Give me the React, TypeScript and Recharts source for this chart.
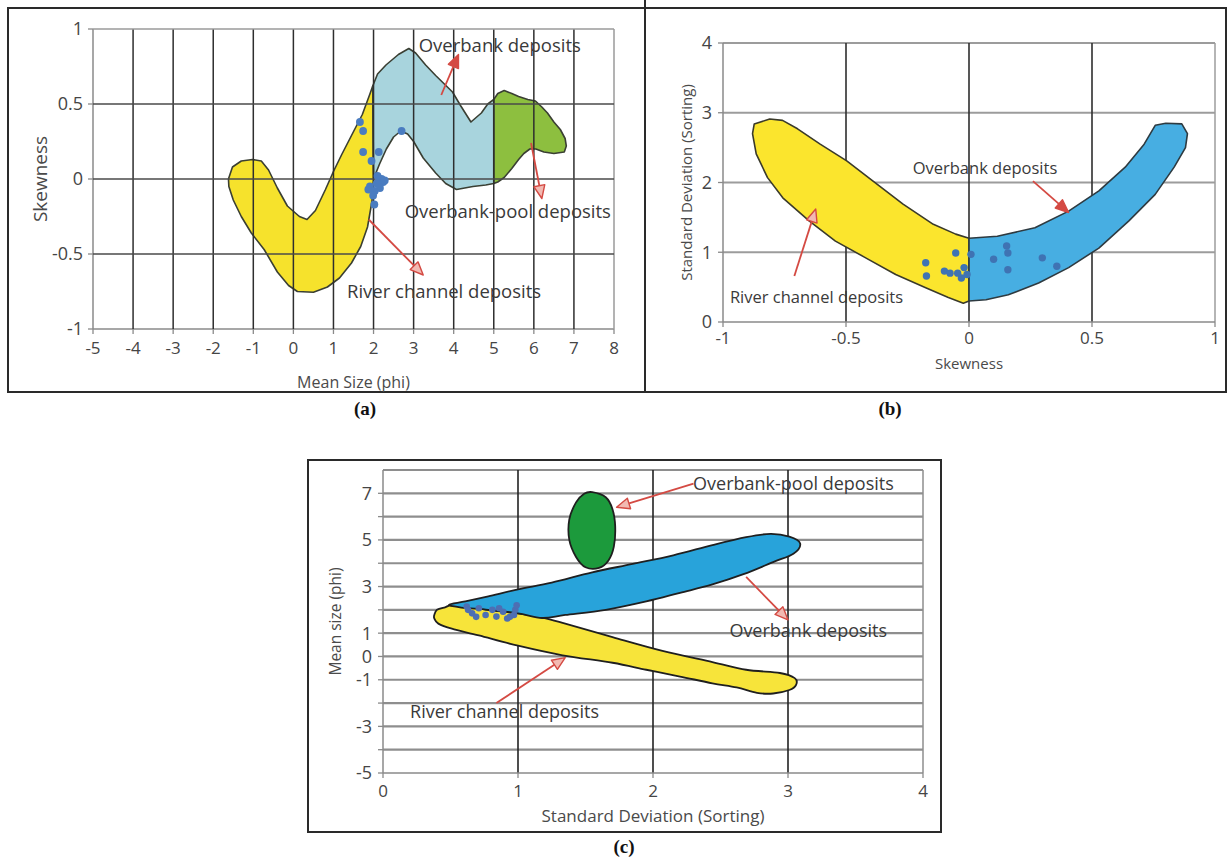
import React from 'react';
import { ScatterChart, Scatter, XAxis, YAxis, ReferenceLine, Label } from 'recharts';

type P = [number, number];

// ---------- Panel (a): Skewness vs Mean Size ----------
const aXTicks = [-5, -4, -3, -2, -1, 0, 1, 2, 3, 4, 5, 6, 7, 8];
const aYTicks = [-1, -0.5, 0, 0.5, 1];
const aRiver: P[] = [
  [-1.62, 0.0], [-1.52, 0.08], [-1.3, 0.12], [-1.02, 0.13], [-0.8, 0.12], [-0.62, 0.06], [-0.4, -0.06],
  [-0.15, -0.18], [0.15, -0.25], [0.34, -0.27], [0.55, -0.21], [0.8, -0.07], [1.0, 0.05], [1.2, 0.16],
  [1.45, 0.29], [1.72, 0.43], [1.9, 0.56], [1.98, 0.62], [2.0, 0.0], [1.96, -0.15], [1.85, -0.32],
  [1.68, -0.45], [1.45, -0.56], [1.15, -0.66], [0.85, -0.72], [0.5, -0.755], [0.1, -0.75], [-0.12, -0.71],
  [-0.4, -0.62], [-0.73, -0.47], [-1.05, -0.36], [-1.3, -0.25], [-1.5, -0.14], [-1.61, -0.05],
];
const aOverbank: P[] = [
  [1.98, 0.62], [2.1, 0.7], [2.31, 0.76], [2.62, 0.83], [2.88, 0.87], [3.05, 0.84], [3.3, 0.76],
  [3.55, 0.69], [3.97, 0.58], [4.17, 0.49], [4.43, 0.38], [4.69, 0.44], [4.85, 0.5], [5.0, 0.53],
  [5.0, -0.03], [4.8, -0.04], [4.48, -0.05], [4.07, -0.07], [3.8, -0.03], [3.55, 0.04], [3.24, 0.14],
  [3.0, 0.25], [2.85, 0.3], [2.68, 0.32], [2.5, 0.28], [2.32, 0.2], [2.15, 0.1], [2.0, 0.0],
];
const aPool: P[] = [
  [5.0, 0.53], [5.1, 0.57], [5.26, 0.59], [5.45, 0.57], [5.62, 0.55], [5.85, 0.53], [6.04, 0.52],
  [6.2, 0.48], [6.34, 0.44], [6.5, 0.38], [6.66, 0.33], [6.78, 0.27], [6.81, 0.22], [6.76, 0.18],
  [6.5, 0.17], [6.25, 0.18], [6.05, 0.2], [5.9, 0.2], [5.75, 0.17], [5.62, 0.13], [5.45, 0.07],
  [5.26, 0.01], [5.1, -0.02], [5.0, -0.03],
];
const aSamples: P[] = [
  [1.66, 0.38], [1.74, 0.32], [1.74, 0.18], [1.95, 0.12], [2.13, 0.18], [2.7, 0.32], [2.2, 0.0],
  [2.24, -0.02], [2.08, -0.03], [1.91, -0.05], [1.87, -0.07], [2.03, -0.08], [2.16, -0.06],
  [2.28, -0.01], [2.1, 0.02], [1.99, -0.11], [2.02, -0.17],
];
const aArrowOverbank: P[] = [[3.69, 0.56], [4.12, 0.83]];
const aArrowPool: P[] = [[5.93, 0.24], [6.2, -0.13]];
const aArrowRiver: P[] = [[1.88, -0.27], [3.24, -0.64]];
const aLabels = [
  { x: 5.15, y: 0.9, label: 'Overbank deposits' },
  { x: 5.35, y: -0.21, label: 'Overbank-pool deposits' },
  { x: 3.76, y: -0.74, label: 'River channel deposits' },
];

// ---------- Panel (b): Standard Deviation vs Skewness ----------
const bXTicks = [-1, -0.5, 0, 0.5, 1];
const bYTicks = [0, 1, 2, 3, 4];
const bRiver: P[] = [
  [-0.873, 2.84], [-0.81, 2.91], [-0.758, 2.89], [-0.697, 2.77], [-0.605, 2.55], [-0.497, 2.31],
  [-0.39, 2.02], [-0.268, 1.69], [-0.145, 1.4], [-0.054, 1.26], [0, 1.2], [0, 0.3], [-0.023, 0.27],
  [-0.084, 0.35], [-0.176, 0.49], [-0.298, 0.68], [-0.42, 0.92], [-0.543, 1.16], [-0.65, 1.45],
  [-0.757, 1.78], [-0.819, 2.07], [-0.865, 2.41], [-0.88, 2.7],
];
const bOverbank: P[] = [
  [0, 1.2], [0.115, 1.23], [0.268, 1.35], [0.405, 1.59], [0.528, 1.88], [0.635, 2.22], [0.712, 2.55],
  [0.757, 2.82], [0.8, 2.85], [0.865, 2.84], [0.888, 2.7], [0.88, 2.5], [0.834, 2.22], [0.757, 1.83],
  [0.65, 1.45], [0.528, 1.06], [0.405, 0.78], [0.283, 0.56], [0.16, 0.39], [0.069, 0.32], [0, 0.3],
];
const bSamples: P[] = [
  [-0.176, 0.85], [-0.173, 0.66], [-0.054, 0.99], [-0.1, 0.73], [-0.077, 0.7], [-0.046, 0.7],
  [-0.031, 0.63], [-0.02, 0.78], [-0.008, 0.68], [0.008, 0.97], [0.1, 0.9], [0.153, 1.09],
  [0.158, 0.99], [0.158, 0.75], [0.298, 0.92], [0.357, 0.8],
];
const bArrowOverbank: P[] = [[0.26, 2.02], [0.405, 1.57]];
const bArrowRiver: P[] = [[-0.71, 0.66], [-0.623, 1.62]];
const bLabels = [
  { x: 0.065, y: 2.22, label: 'Overbank deposits' },
  { x: -0.62, y: 0.37, label: 'River channel deposits' },
];

// ---------- Panel (c): Mean size vs Standard Deviation ----------
const cXTicks = [0, 1, 2, 3, 4];
const cYTicks = [-5, -4, -3, -2, -1, 0, 1, 2, 3, 4, 5, 6, 7];
const cYLabeled = [7, 5, 3, 1, 0, -1, -3, -5];
const cPool: P[] = [
  [1.55, 7.05], [1.65, 6.83], [1.7, 6.32], [1.72, 5.58], [1.71, 4.71], [1.67, 4.12], [1.6, 3.8],
  [1.5, 3.83], [1.43, 4.27], [1.38, 5.0], [1.38, 5.88], [1.43, 6.61], [1.49, 6.98],
];
const cOverbank: P[] = [
  [0.49, 2.22], [0.61, 2.36], [0.78, 2.58], [1.0, 2.88], [1.25, 3.17], [1.55, 3.61], [1.85, 3.97],
  [2.15, 4.34], [2.44, 4.78], [2.69, 5.12], [2.87, 5.26], [3.01, 5.14], [3.09, 4.85], [3.04, 4.41],
  [2.89, 4.05], [2.67, 3.53], [2.44, 3.09], [2.2, 2.73], [1.95, 2.36], [1.65, 2.0], [1.35, 1.78],
  [1.18, 1.65], [1.0, 1.85], [0.78, 2.0], [0.58, 2.1],
];
const cRiver: P[] = [
  [0.38, 1.78], [0.4, 2.0], [0.46, 2.11], [0.53, 2.2], [0.78, 2.0], [1.0, 1.85], [1.18, 1.67],
  [1.35, 1.41], [1.7, 0.83], [2.07, 0.24], [2.44, -0.24], [2.69, -0.57], [2.94, -0.71], [3.05, -0.93],
  [3.06, -1.22], [3.01, -1.44], [2.89, -1.59], [2.77, -1.56], [2.62, -1.33], [2.44, -1.15],
  [2.2, -0.86], [1.95, -0.57], [1.7, -0.27], [1.33, 0.05], [1.0, 0.46], [0.71, 0.9], [0.51, 1.19],
  [0.41, 1.41], [0.38, 1.63],
];
const cSamples: P[] = [
  [0.62, 2.14], [0.66, 1.85], [0.71, 2.07], [0.76, 1.78], [0.81, 2.0], [0.84, 1.71], [0.89, 1.92],
  [0.94, 1.7], [0.98, 2.0], [0.99, 2.2], [0.63, 2.0], [0.69, 1.7], [0.86, 2.07], [0.92, 1.63],
  [0.97, 1.78],
];
const cArrowPool: P[] = [[2.3, 7.42], [1.73, 6.4]];
const cArrowOverbank: P[] = [[2.69, 3.41], [3.0, 1.57]];
const cArrowRiver: P[] = [[0.84, -2.0], [1.35, -0.05]];
const cLabels = [
  { x: 3.04, y: 7.44, label: 'Overbank-pool deposits' },
  { x: 3.15, y: 1.14, label: 'Overbank deposits' },
  { x: 0.9, y: -2.35, label: 'River channel deposits' },
];

// ---------- helpers ----------
const FONT = "'Open Sans', 'Noto Sans', 'DejaVu Sans', sans-serif";
const ARROW = '#d44a43';
const toObj = (arr: P[]) => arr.map(([x, y]) => ({ x, y }));
const noShape = () => <g />;

const linearPath = (pts: any[]) =>
  pts.map((p: any, i: number) => `${i ? 'L' : 'M'}${p.x.toFixed(2)},${p.y.toFixed(2)}`).join(' ') + ' Z';

// closed Catmull-Rom spline through the scaled vertices
const smoothPath = (pts: any[]) => {
  const n = pts.length;
  let d = `M${pts[0].x.toFixed(2)},${pts[0].y.toFixed(2)}`;
  for (let i = 0; i < n; i++) {
    const p0 = pts[(i - 1 + n) % n];
    const p1 = pts[i];
    const p2 = pts[(i + 1) % n];
    const p3 = pts[(i + 2) % n];
    const c1x = p1.x + (p2.x - p0.x) / 6;
    const c1y = p1.y + (p2.y - p0.y) / 6;
    const c2x = p2.x - (p3.x - p1.x) / 6;
    const c2y = p2.y - (p3.y - p1.y) / 6;
    d += ` C${c1x.toFixed(2)},${c1y.toFixed(2)} ${c2x.toFixed(2)},${c2y.toFixed(2)} ${p2.x.toFixed(2)},${p2.y.toFixed(2)}`;
  }
  return d + ' Z';
};

const polygonLine = (fill: string, stroke: string, sw = 1.6, smooth = false) => (props: any) => {
  const pts = props.points || [];
  if (pts.length < 3) return <g />;
  const d = smooth ? smoothPath(pts) : linearPath(pts);
  return <path d={d} fill={fill} stroke={stroke} strokeWidth={sw} strokeLinejoin="round" />;
};

const arrowLine = (open: boolean) => (props: any) => {
  const pts = props.points || [];
  if (pts.length < 2) return <g />;
  const a = pts[0];
  const b = pts[pts.length - 1];
  const ang = Math.atan2(b.y - a.y, b.x - a.x);
  const L = 13;
  const W = 5.5;
  const bx = b.x - L * Math.cos(ang);
  const by = b.y - L * Math.sin(ang);
  const nx = -Math.sin(ang) * W;
  const ny = Math.cos(ang) * W;
  const head = `M${b.x},${b.y} L${bx + nx},${by + ny} L${bx - nx},${by - ny} Z`;
  return (
    <g>
      <line x1={a.x} y1={a.y} x2={bx} y2={by} stroke={ARROW} strokeWidth={1.8} />
      <path d={head} fill={open ? '#f2b9b2' : ARROW} stroke={ARROW} strokeWidth={1.4} strokeLinejoin="round" />
    </g>
  );
};

const dotShape = (r: number, color: string) => (p: any) => <circle cx={p.cx} cy={p.cy} r={r} fill={color} />;

const textShape = (size: number) => (p: any) => (
  <text x={p.cx} y={p.cy} textAnchor="middle" dominantBaseline="central" fontSize={size} fill="#3a3a3a" fontFamily={FONT}>
    {p.payload.label}
  </text>
);

const xTitle = (text: string, dy: number, size: number) => (p: any) => {
  const vb = p.viewBox || { x: 0, y: 0, width: 0, height: 0 };
  return (
    <text x={vb.x + vb.width / 2} y={vb.y + dy} textAnchor="middle" dominantBaseline="central" fontSize={size} fill="#4a4a4a" fontFamily={FONT}>
      {text}
    </text>
  );
};

const yTitle = (text: string, dx: number, size: number) => (p: any) => {
  const vb = p.viewBox || { x: 0, y: 0, width: 0, height: 0 };
  const x = vb.x + dx;
  const y = vb.y + vb.height / 2;
  return (
    <text x={x} y={y} transform={`rotate(-90 ${x} ${y})`} textAnchor="middle" dominantBaseline="central" fontSize={size} fill="#4a4a4a" fontFamily={FONT}>
      {text}
    </text>
  );
};

const tickStyle = (size: number) => ({ fontSize: size, fill: '#454545', fontFamily: FONT });
const axisLine = { stroke: '#8a8a8a', strokeWidth: 1.5 };
const tickLine = { stroke: '#8a8a8a', strokeWidth: 1.3 };

const Poly = (data: P[], fill: string, stroke = '#3a3f33', sw = 1.6, smooth = false) => (
  <Scatter
    data={toObj(data)}
    dataKey="y"
    line={polygonLine(fill, stroke, sw, smooth)}
    lineType="joint"
    shape={noShape}
    isAnimationActive={false}
    legendType="none"
  />
);

const Arrow = (data: P[], open: boolean, z?: number) => (
  <Scatter data={toObj(data)} dataKey="y" line={arrowLine(open)} lineType="joint" shape={noShape} isAnimationActive={false} zIndex={z} />
);

export default function App() {
  const frame = '#2a2a2a';
  return (
    <div style={{ position: 'absolute', left: 0, top: 0, width: 1232, height: 862, background: '#fff', overflow: 'hidden' }}>
      {/* frames */}
      <div style={{ position: 'absolute', left: 7, top: 7, width: 1220, height: 386, border: `2px solid ${frame}`, boxSizing: 'border-box' }} />
      <div style={{ position: 'absolute', left: 644, top: 0, width: 2, height: 393, background: frame }} />
      <div style={{ position: 'absolute', left: 307, top: 459, width: 635, height: 374, border: `2px solid ${frame}`, boxSizing: 'border-box' }} />

      {/* Panel (a) */}
      <div style={{ position: 'absolute', left: 7, top: 7 }}>
        <ScatterChart width={638} height={386} margin={{ top: 22, right: 31, bottom: 3, left: 26 }}>
          <XAxis type="number" dataKey="x" domain={[-5, 8]} ticks={aXTicks} interval={0} height={61}
            tick={tickStyle(17)} tickSize={5} tickMargin={8} tickLine={tickLine} axisLine={axisLine} allowDataOverflow>
            <Label content={xTitle('Mean Size (phi)', 53, 16)} />
          </XAxis>
          <YAxis type="number" dataKey="y" domain={[-1, 1]} ticks={aYTicks} interval={0} width={60}
            tick={tickStyle(18)} tickSize={5} tickMargin={5} tickLine={tickLine} axisLine={axisLine} allowDataOverflow>
            <Label content={yTitle('Skewness', 7, 19)} />
          </YAxis>
          {Poly(aRiver, '#f6e22c')}
          {Poly(aOverbank, '#a8d4dd')}
          {Poly(aPool, '#8dbf3f')}
          {aXTicks.filter((t) => t > -5 && t < 8).map((t) => (
            <ReferenceLine key={`ax${t}`} x={t} stroke="#2e2e2e" strokeWidth={1.5} zIndex={650} />
          ))}
          <ReferenceLine x={8} stroke="#9a9a9a" strokeWidth={1.5} zIndex={650} />
          {aYTicks.filter((t) => t > -1 && t < 1).map((t) => (
            <ReferenceLine key={`ay${t}`} y={t} stroke="#4a4a4a" strokeWidth={1.5} zIndex={650} />
          ))}
          <ReferenceLine y={1} stroke="#9a9a9a" strokeWidth={1.5} zIndex={650} />
          <Scatter data={toObj(aSamples)} dataKey="y" shape={dotShape(3.9, '#4a7cc0')} isAnimationActive={false} zIndex={700} />
          {Arrow(aArrowOverbank, false, 700)}
          {Arrow(aArrowPool, true, 700)}
          {Arrow(aArrowRiver, true, 700)}
          <Scatter data={aLabels} dataKey="y" shape={textShape(18.5)} isAnimationActive={false} zIndex={710} />
        </ScatterChart>
      </div>

      {/* Panel (b) */}
      <div style={{ position: 'absolute', left: 646, top: 7 }}>
        <ScatterChart width={580} height={386} margin={{ top: 36, right: 11, bottom: 4, left: 27 }}>
          <XAxis type="number" dataKey="x" domain={[-1, 1]} ticks={bXTicks} interval={0} height={67}
            tick={tickStyle(17)} tickSize={5} tickMargin={5} tickLine={tickLine} axisLine={axisLine} allowDataOverflow>
            <Label content={xTitle('Skewness', 41, 15)} />
          </XAxis>
          <YAxis type="number" dataKey="y" domain={[0, 4]} ticks={bYTicks} interval={0} width={50}
            tick={tickStyle(18)} tickSize={5} tickMargin={6} tickLine={tickLine} axisLine={axisLine} allowDataOverflow>
            <Label content={yTitle('Standard Deviation (Sorting)', 13, 15)} />
          </YAxis>
          {bYTicks.filter((t) => t > 0).map((t) => (
            <ReferenceLine key={`by${t}`} y={t} stroke="#9c9c9c" strokeWidth={2} />
          ))}
          {[-0.5, 0, 0.5].map((t) => (
            <ReferenceLine key={`bx${t}`} x={t} stroke="#2e2e2e" strokeWidth={1.6} />
          ))}
          <ReferenceLine x={1} stroke="#9c9c9c" strokeWidth={1.5} />
          {Poly(bRiver, '#fbe52d', '#3a3a2a')}
          {Poly(bOverbank, '#47aee2', '#2e3a40')}
          <Scatter data={toObj(bSamples)} dataKey="y" shape={dotShape(3.7, '#3f73b3')} isAnimationActive={false} />
          {Arrow(bArrowOverbank, false)}
          {Arrow(bArrowRiver, true)}
          <Scatter data={bLabels} dataKey="y" shape={textShape(16.5)} isAnimationActive={false} />
        </ScatterChart>
      </div>

      {/* Panel (c) */}
      <div style={{ position: 'absolute', left: 308, top: 460 }}>
        <ScatterChart width={633} height={372} margin={{ top: 10, right: 18, bottom: 3, left: 25 }}>
          <XAxis type="number" dataKey="x" domain={[0, 4]} ticks={cXTicks} interval={0} height={56}
            tick={tickStyle(17)} tickSize={5} tickMargin={7} tickLine={tickLine} axisLine={axisLine} allowDataOverflow>
            <Label content={xTitle('Standard Deviation (Sorting)', 42, 17)} />
          </XAxis>
          <YAxis type="number" dataKey="y" domain={[-5, 8]} ticks={cYTicks} interval={0} width={50}
            tick={tickStyle(18)} tickSize={5} tickMargin={6} tickLine={tickLine} axisLine={axisLine} allowDataOverflow
            tickFormatter={(v: number) => (cYLabeled.includes(v) ? String(v) : '')}>
            <Label content={yTitle('Mean size (phi)', 2, 15.5)} />
          </YAxis>
          {cYTicks.filter((t) => t > -5).concat([8]).map((t) => (
            <ReferenceLine key={`cy${t}`} y={t} stroke="#8e8e8e" strokeWidth={2.2} />
          ))}
          {[1, 2, 3].map((t) => (
            <ReferenceLine key={`cx${t}`} x={t} stroke="#222" strokeWidth={1.6} />
          ))}
          <ReferenceLine x={4} stroke="#8e8e8e" strokeWidth={1.5} />
          {Poly(cRiver, '#f7e43a', '#1f1f1f', 1.8, true)}
          {Poly(cOverbank, '#28a3da', '#1f1f1f', 1.8, true)}
          {Poly(cPool, '#1c9a3c', '#1f1f1f', 1.8, true)}
          <Scatter data={toObj(cSamples)} dataKey="y" shape={dotShape(3.3, '#4d6fb3')} isAnimationActive={false} />
          {Arrow(cArrowPool, true)}
          {Arrow(cArrowOverbank, true)}
          {Arrow(cArrowRiver, true)}
          <Scatter data={cLabels} dataKey="y" shape={textShape(18)} isAnimationActive={false} />
        </ScatterChart>
      </div>

      {/* panel captions */}
      {[
        { t: '(a)', x: 365, y: 409 },
        { t: '(b)', x: 890, y: 409 },
        { t: '(c)', x: 624, y: 847 },
      ].map((c) => (
        <div key={c.t} style={{ position: 'absolute', left: c.x - 30, top: c.y - 12, width: 60, textAlign: 'center', fontFamily: "'Liberation Serif', 'Times New Roman', serif", fontWeight: 'bold', fontSize: 19, lineHeight: '24px', color: '#111' }}>
          {c.t}
        </div>
      ))}
    </div>
  );
}
